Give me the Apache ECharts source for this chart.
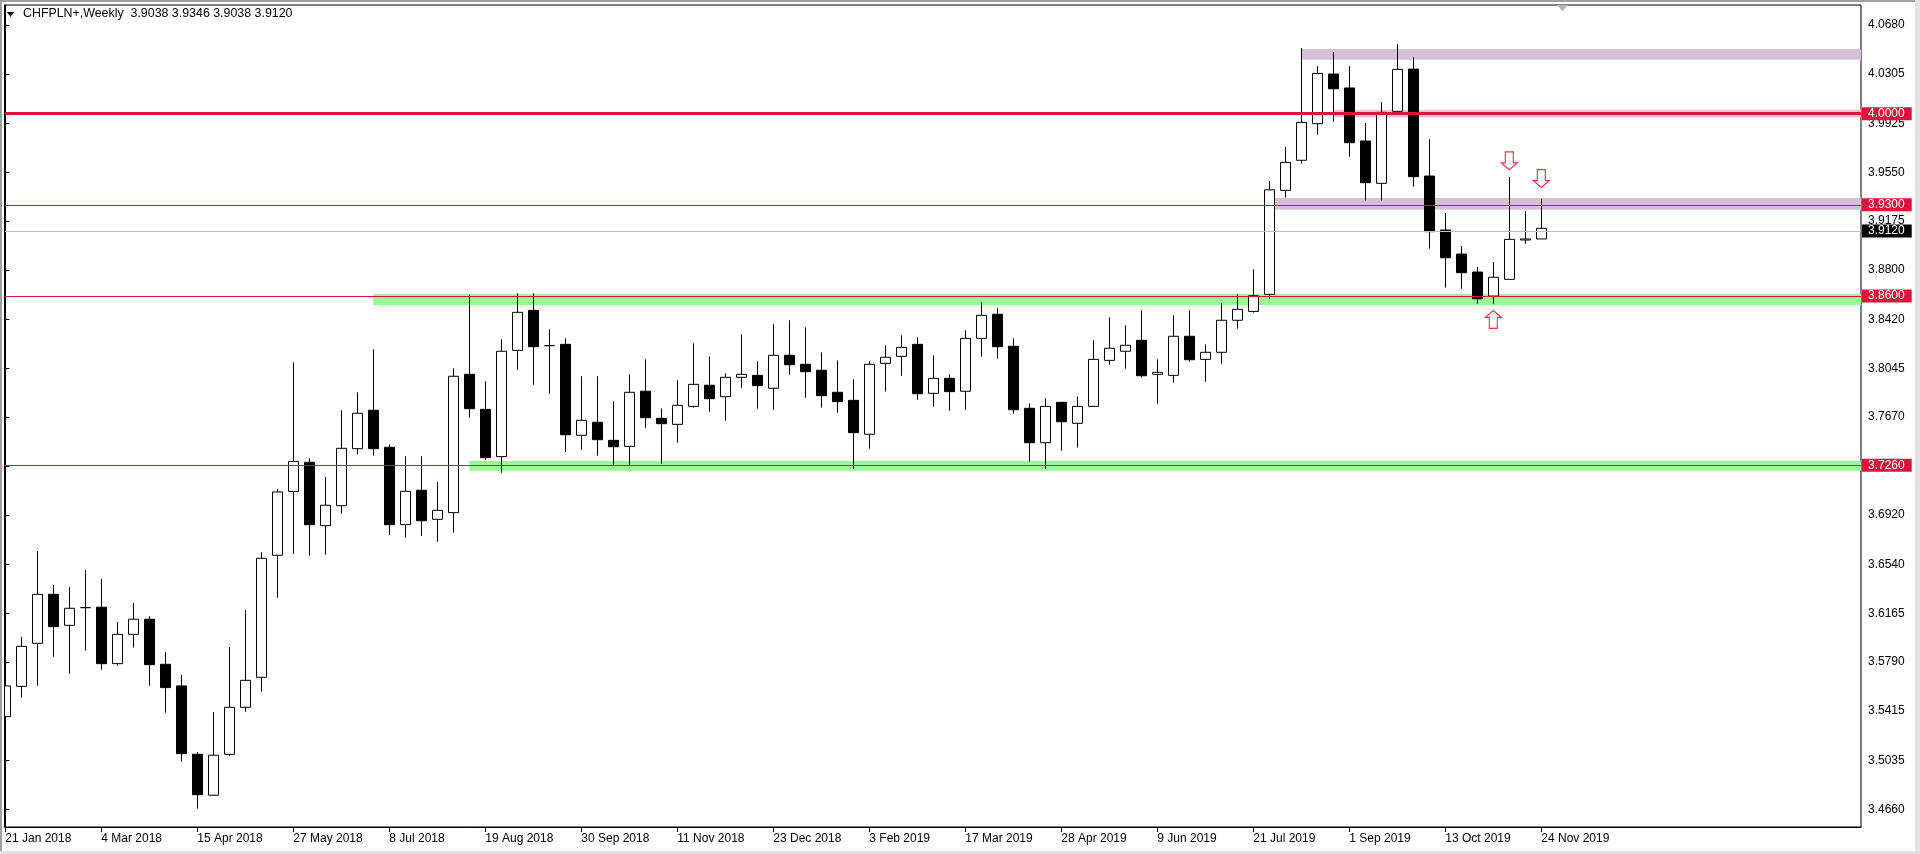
<!DOCTYPE html>
<html><head><meta charset="utf-8">
<script src="https://cdn.jsdelivr.net/npm/echarts@6/dist/echarts.min.js"></script>
<style>html,body{margin:0;padding:0;background:#fff;overflow:hidden}#c{width:1920px;height:854px}</style>
</head><body><div id="c"></div>
<script>
// ---------- data ----------
const symbolName = 'CHFPLN+,Weekly';
const lastBar = [3.9038, 3.9346, 3.9038, 3.9120]; // O H L C
const xTickIndex = [0, 6, 12, 18, 24, 30, 36, 42, 48, 54, 60, 66, 72, 78, 84, 90, 96];
const xTickLabels = ['21 Jan 2018','4 Mar 2018','15 Apr 2018','27 May 2018','8 Jul 2018','19 Aug 2018','30 Sep 2018','11 Nov 2018','23 Dec 2018','3 Feb 2019','17 Mar 2019','28 Apr 2019','9 Jun 2019','21 Jul 2019','1 Sep 2019','13 Oct 2019','24 Nov 2019'];
const yTickValues = [4.0680,4.0305,3.9925,3.9550,3.9175,3.8800,3.8420,3.8045,3.7670,3.7295,3.6920,3.6540,3.6165,3.5790,3.5415,3.5035,3.4660];
const opens = [3.5371,3.5604,3.5934,3.6310,3.6072,3.6208,3.6211,3.5778,3.6003,3.6119,
 3.5773,3.5607,3.5082,3.4768,3.5082,3.5443,3.5673,3.6610,3.7100,3.7324,
 3.6837,3.6990,3.7428,3.7723,3.7439,3.6845,3.7109,3.6886,3.6937,3.7999,
 3.7730,3.7367,3.8183,3.8490,3.8219,3.8229,3.7531,3.7631,3.7492,3.7446,
 3.7869,3.7661,3.7615,3.7753,3.7915,3.7827,3.7976,3.7991,3.7892,3.8145,
 3.8076,3.8030,3.7861,3.7799,3.7539,3.8083,3.8137,3.8229,3.7853,3.7968,
 3.7869,3.8275,3.8460,3.8214,3.7738,3.7474,3.7784,3.7623,3.7753,3.8106,
 3.8176,3.8260,3.7999,3.7991,3.8291,3.8114,3.8168,3.8414,3.8482,3.8613,
 3.9411,3.9642,3.9923,4.0304,4.0197,3.9790,3.9465,4.0018,4.0342,3.9521,
 3.9107,3.8922,3.8784,3.8600,3.8728,3.9030,3.9038];
const closes = [3.5607,3.5911,3.6310,3.6062,3.6203,3.6208,3.5778,3.6003,3.6119,3.5770,
 3.5594,3.5087,3.4772,3.5075,3.5443,3.5650,3.6587,3.7096,3.7330,3.6845,
 3.6994,3.7431,3.7700,3.7428,3.6845,3.7101,3.6875,3.6955,3.7984,3.7735,
 3.7359,3.8176,3.8475,3.8211,3.8219,3.7535,3.7646,3.7497,3.7443,3.7861,
 3.7666,3.7620,3.7761,3.7922,3.7812,3.7976,3.7999,3.7912,3.8145,3.8073,
 3.8019,3.7835,3.7789,3.7551,3.8076,3.8130,3.8206,3.7850,3.7968,3.7866,
 3.8275,3.8452,3.8211,3.7727,3.7474,3.7753,3.7635,3.7753,3.8114,3.8199,
 3.8222,3.7988,3.8014,3.8291,3.8111,3.8168,3.8414,3.8498,3.8602,3.9415,
 3.9626,3.9933,4.0309,4.0191,3.9777,3.9470,4.0010,4.0340,3.9516,3.9094,
 3.8894,3.8779,3.8579,3.8744,3.9035,3.9038,3.9120];
const lows = [3.5274,3.5517,3.5609,3.5831,3.5701,3.5878,3.5732,3.5762,3.5901,3.5609,
 3.5402,3.5026,3.4665,3.4765,3.5069,3.5409,3.5563,3.6284,3.6620,3.6607,
 3.6614,3.6929,3.7385,3.7374,3.6766,3.6745,3.6758,3.6714,3.6783,3.7666,
 3.7341,3.7244,3.8034,3.7919,3.7850,3.7403,3.7420,3.7374,3.7305,3.7298,
 3.7589,3.7313,3.7474,3.7743,3.7712,3.7643,3.7896,3.7735,3.7727,3.7996,
 3.7819,3.7743,3.7704,3.7274,3.7428,3.7866,3.7988,3.7804,3.7750,3.7720,
 3.7727,3.8134,3.8119,3.7697,3.7328,3.7274,3.7413,3.7436,3.7750,3.8073,
 3.8042,3.7973,3.7773,3.7935,3.8096,3.7942,3.8080,3.8349,3.8472,3.8579,
 3.9355,3.9616,3.9838,3.9938,3.9669,3.9332,3.9332,4.0010,3.9439,3.8963,
 3.8664,3.8656,3.8541,3.8541,3.8728,3.9001,3.9038];
const highs = [3.5691,3.5983,3.6643,3.6382,3.6366,3.6497,3.6428,3.6098,3.6244,3.6142,
 3.5868,3.5691,3.5100,3.5407,3.5906,3.6190,3.6633,3.7120,3.8090,3.7354,
 3.7211,3.7723,3.7861,3.8191,3.7462,3.7370,3.7370,3.7172,3.8045,3.8608,
 3.7945,3.8268,3.8621,3.8621,3.8344,3.8275,3.7984,3.7984,3.7792,3.7999,
 3.8114,3.7738,3.7953,3.8237,3.8137,3.8007,3.8306,3.8099,3.8383,3.8414,
 3.8360,3.8168,3.8106,3.7961,3.8099,3.8222,3.8298,3.8283,3.8145,3.7999,
 3.8337,3.8552,3.8506,3.8275,3.7776,3.7815,3.7784,3.7830,3.8260,3.8437,
 3.8375,3.8490,3.8114,3.8452,3.8490,3.8229,3.8544,3.8613,3.8805,3.9483,
 3.9744,4.0504,4.0365,4.0473,4.0365,3.9928,4.0089,4.0534,4.0434,3.9805,
 3.9237,3.8984,3.8823,3.8861,3.9513,3.9252,3.9346];
const levelPrices = [4.0000, 3.9300, 3.8600, 3.7260];
const bidPrice = 3.9120;
const zoneStart = [23, 29, 79, 81, 83];
const zoneLow   = [3.8531, 3.7258, 3.9262, 4.0414, 3.9972];
const zoneHigh  = [3.8615, 3.7334, 3.9352, 4.0496, 4.0030];
const zoneKind  = ['support', 'support', 'resistance', 'resistance', 'level'];
const arrowsDown = [[94, 3.9638], [96, 3.9502]];
const arrowsUp = [[93, 3.8420]];

// ---------- view ----------
const yMin = 3.4524, yMax = 4.0834;
const xMin = -0.02, xMax = 115.98;
const FONT = '"Liberation Sans", Arial, sans-serif';
const zoneColor = {support: '#98FB98', resistance: '#D8BFD8', level: '#FFC0CB'};
const tag = (bg) => ({
  show: true, position: 'end', distance: 1,
  color: '#fff', backgroundColor: bg, fontFamily: FONT, fontSize: 12,
  lineHeight: 12, padding: [1, 7, 0, 6]
});
const downPath = 'path://M4,0L12,0L12,11L16,11L8,18L0,11L4,11Z';
const upPath = 'path://M8,0L16,7L12,7L12,18L4,18L4,7L0,7Z';

const chart = echarts.init(document.getElementById('c'), null, {renderer: 'canvas'});
const candles = opens.map((o, i) => [i, o, closes[i], lows[i], highs[i]]);

chart.setOption({
  animation: false,
  backgroundColor: '#fff',
  grid: {left: 5, right: 59, top: 5, bottom: 27, show: true, borderColor: '#000', borderWidth: 1, backgroundColor: '#fff'},
  xAxis: {
    type: 'value', min: xMin, max: xMax,
    axisLine: {show: true, lineStyle: {color: '#000', width: 1}},
    axisTick: {show: true, length: 5, lineStyle: {color: '#000'}, customValues: xTickIndex},
    axisLabel: {show: true, customValues: xTickIndex, align: 'left', margin: 6, color: '#000',
      fontFamily: FONT, fontSize: 12,
      formatter: (v) => xTickLabels[xTickIndex.indexOf(Math.round(v))] || ''},
    splitLine: {show: false}
  },
  yAxis: {
    type: 'value', position: 'right', min: yMin, max: yMax, scale: true,
    axisLine: {show: true, lineStyle: {color: '#000', width: 1}},
    axisTick: {show: true, length: 4, lineStyle: {color: '#000'}, customValues: yTickValues},
    axisLabel: {show: true, customValues: yTickValues, margin: 7, color: '#000',
      fontFamily: FONT, fontSize: 12, formatter: (v) => v.toFixed(4)},
    splitLine: {show: false}
  },
  series: [
    {
      type: 'line', data: [], z: 1, silent: true, clip: false,
      markArea: {
        silent: true,
        data: zoneStart.map((s, k) => [
          {xAxis: s, yAxis: zoneLow[k], itemStyle: {color: zoneColor[zoneKind[k]], opacity: 1}},
          {xAxis: xMax, yAxis: zoneHigh[k]}
        ])
      }
    },
    {
      type: 'candlestick', z: 3, data: candles, barWidth: 10,
      itemStyle: {color: '#fff', color0: '#000', borderColor: '#000', borderColor0: '#000', borderWidth: 1},
      emphasis: {disabled: true}
    },
    {
      type: 'line', data: [], z: 5, silent: true, clip: false,
      markLine: {
        silent: true, symbol: ['none', 'none'], animation: false,
        data: levelPrices.map((p, k) => ({
          yAxis: p,
          lineStyle: {color: '#DC143C', width: k === 0 ? 3 : 1, type: 'solid', opacity: 1},
          label: Object.assign(tag('#DC143C'), {formatter: p.toFixed(4)})
        })).concat([{
          yAxis: bidPrice,
          lineStyle: {color: '#C0C0C0', width: 1, type: 'solid', opacity: 1},
          label: Object.assign(tag('#000'), {formatter: bidPrice.toFixed(4)})
        }])
      }
    },
    {
      type: 'scatter', z: 6, silent: true, data: arrowsDown, symbol: downPath, symbolSize: [16, 18],
      itemStyle: {color: '#fff', borderColor: '#EE3350', borderWidth: 1.2, opacity: 1}
    },
    {
      type: 'scatter', z: 6, silent: true, data: arrowsUp, symbol: upPath, symbolSize: [16, 18],
      itemStyle: {color: '#fff', borderColor: '#EE3350', borderWidth: 1.2, opacity: 1}
    }
  ],
  graphic: [
    {type: 'rect', z: 100, shape: {x: 0, y: 0, width: 4.5, height: 854}, style: {fill: '#fff'}, silent: true},
    {type: 'rect', z: 101, shape: {x: 4, y: 4.5, width: 1, height: 823}, style: {fill: '#000'}, silent: true},
    {type: 'rect', z: 101, shape: {x: 0, y: 0, width: 1920, height: 2}, style: {fill: '#A0A0A0'}, silent: true},
    {type: 'rect', z: 101, shape: {x: 0, y: 0, width: 2, height: 854}, style: {fill: '#A0A0A0'}, silent: true},
    {type: 'rect', z: 101, shape: {x: 0, y: 851, width: 1920, height: 3}, style: {fill: '#E3E3E3'}, silent: true},
    {type: 'rect', z: 101, shape: {x: 1915, y: 0, width: 5, height: 854}, style: {fill: '#E3E3E3'}, silent: true},
    {type: 'polygon', z: 101, shape: {points: [[7, 12], [14, 12], [10.5, 17]]}, style: {fill: '#000'}, silent: true},
    {type: 'text', z: 101, left: 23, top: 8, silent: true, style: {
      text: symbolName + '  ' + lastBar.map(v => v.toFixed(4)).join(' '),
      font: '12.4px ' + FONT, fill: '#000'}},
    {type: 'polygon', z: 101, shape: {points: [[1557, 5], [1568, 5], [1562.5, 11]]}, style: {fill: '#B4B4B4'}, silent: true}
  ]
});
</script></body></html>
